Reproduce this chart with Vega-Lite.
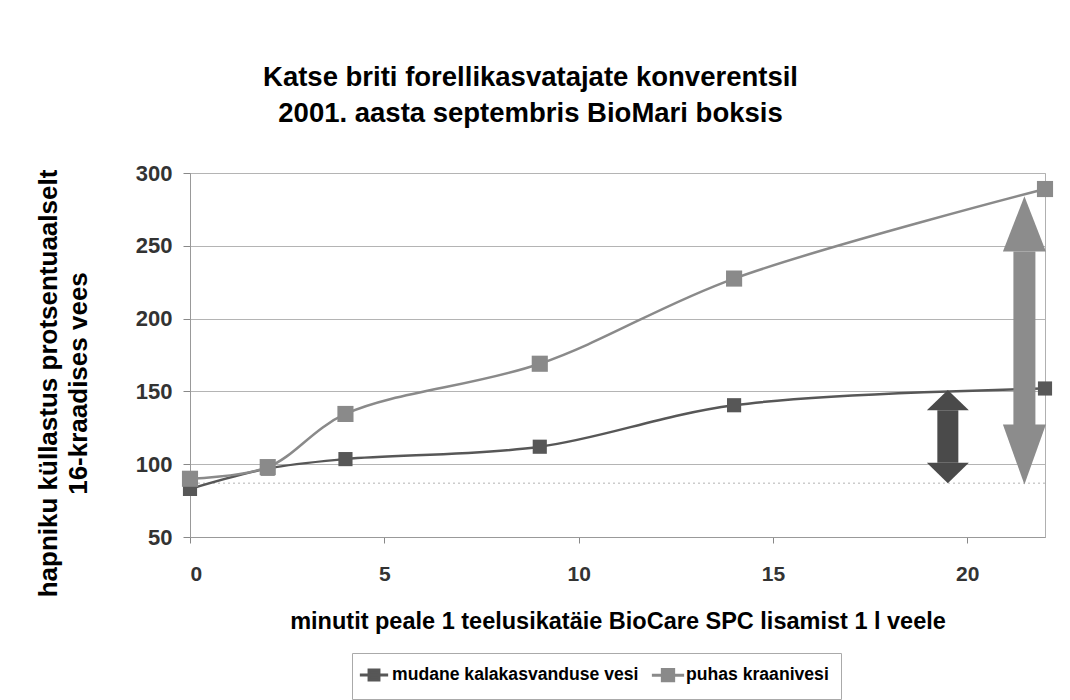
{
  "$schema": "https://vega.github.io/schema/vega-lite/v6.json",
  "width": 855,
  "height": 364,
  "autosize": "none",
  "padding": {"left": 190, "top": 173, "right": 25, "bottom": 163},
  "background": "white",
  "config": {
    "font": "Liberation Sans",
    "view": {"stroke": "#b0b0b0", "strokeWidth": 1}
  },
  "title": {
    "text": ["Katse briti forellikasvatajate konverentsil", "2001. aasta septembris BioMari boksis"],
    "fontSize": 27.5,
    "fontWeight": "bold",
    "color": "#000000",
    "anchor": "middle",
    "dx": -87,
    "offset": 35,
    "lineHeight": 36
  },
  "datasets": {
    "series": [
      {"minutes": 0, "value": 83, "series": "mudane kalakasvanduse vesi"},
      {"minutes": 2, "value": 97, "series": "mudane kalakasvanduse vesi"},
      {"minutes": 4, "value": 103.5, "series": "mudane kalakasvanduse vesi"},
      {"minutes": 9, "value": 112, "series": "mudane kalakasvanduse vesi"},
      {"minutes": 14, "value": 140.5, "series": "mudane kalakasvanduse vesi"},
      {"minutes": 22, "value": 152, "series": "mudane kalakasvanduse vesi"},
      {"minutes": 0, "value": 90, "series": "puhas kraanivesi"},
      {"minutes": 2, "value": 98, "series": "puhas kraanivesi"},
      {"minutes": 4, "value": 134.5, "series": "puhas kraanivesi"},
      {"minutes": 9, "value": 169, "series": "puhas kraanivesi"},
      {"minutes": 14, "value": 227.5, "series": "puhas kraanivesi"},
      {"minutes": 22, "value": 289, "series": "puhas kraanivesi"}
    ],
    "arrows": [
      {"arrow": "dark", "minutes": 19.5, "tip_top": 151, "tip_bottom": 87, "shaft_top": 137, "shaft_bottom": 101},
      {"arrow": "light", "minutes": 21.47, "tip_top": 284, "tip_bottom": 86, "shaft_top": 246, "shaft_bottom": 127}
    ],
    "reference": [{"level": 87}]
  },
  "layer": [
    {
      "data": {"name": "reference"},
      "mark": {"type": "rule", "color": "#cccccc", "strokeDash": [2, 3], "strokeWidth": 1.5},
      "encoding": {"y": {"field": "level", "type": "quantitative", "scale": {"domain": [50, 300]}}}
    },
    {
      "data": {"name": "series"},
      "mark": {"type": "line", "interpolate": "catmull-rom", "strokeWidth": 2.5},
      "encoding": {
        "x": {
          "field": "minutes", "type": "quantitative",
          "scale": {"domain": [0, 22], "nice": false},
          "axis": {
            "values": [0, 5, 10, 15, 20],
            "grid": false,
            "title": "minutit peale 1 teelusikatäie BioCare SPC lisamist 1 l veele",
            "titleFontSize": 23.5, "titleFontWeight": "bold", "titleColor": "#000000",
            "titlePadding": 25,
            "labelFontSize": 21, "labelFontWeight": "bold", "labelColor": "#333333",
            "labelPadding": 20,
            "tickSize": 6, "tickColor": "#888888",
            "domainColor": "#999999"
          }
        },
        "y": {
          "field": "value", "type": "quantitative",
          "scale": {"domain": [50, 300], "nice": false},
          "axis": {
            "values": [50, 100, 150, 200, 250, 300],
            "grid": true, "gridColor": "#b4b4b4", "gridWidth": 1,
            "title": ["hapniku küllastus protsentuaalselt", "16-kraadises vees"],
            "titleFontSize": 26, "titleFontWeight": "bold", "titleColor": "#000000",
            "titleLineHeight": 30,
            "titlePadding": 44,
            "titleY": 210,
            "labelFontSize": 22, "labelFontWeight": "bold", "labelColor": "#333333",
            "labelPadding": 11,
            "tickSize": 7, "tickColor": "#888888",
            "domainColor": "#999999"
          }
        },
        "color": {
          "field": "series", "type": "nominal",
          "scale": {"domain": ["mudane kalakasvanduse vesi", "puhas kraanivesi"], "range": ["#575757", "#8a8a8a"]},
          "legend": {
            "title": null,
            "orient": "none",
            "legendX": 162,
            "legendY": 480,
            "direction": "horizontal",
            "columns": 2,
            "columnPadding": 6,
            "labelFontSize": 17.6,
            "labelFontWeight": "bold",
            "labelColor": "#000000",
            "labelOffset": 8,
            "labelLimit": 400,
            "symbolType": "M-2,0H2M-0.7,-0.7H0.7V0.7H-0.7Z",
            "symbolSize": 1369,
            "symbolStrokeWidth": 3,
            "strokeColor": "#aaaaaa",
            "padding": 12,
            "encode": {
              "symbols": {
                "update": {
                  "fill": {"scale": "color", "field": "value"},
                  "stroke": {"scale": "color", "field": "value"},
                  "strokeWidth": {"value": 3},
                  "opacity": {"value": 1}
                }
              }
            }
          }
        }
      }
    },
    {
      "data": {"name": "series"},
      "mark": {"type": "point", "shape": "square", "filled": true, "opacity": 1},
      "encoding": {
        "x": {"field": "minutes", "type": "quantitative"},
        "y": {"field": "value", "type": "quantitative"},
        "color": {"field": "series", "type": "nominal"},
        "size": {"field": "series", "type": "nominal", "scale": {"domain": ["mudane kalakasvanduse vesi", "puhas kraanivesi"], "range": [200, 260]}, "legend": null}
      }
    },
    {
      "data": {"name": "arrows"},
      "transform": [{"filter": "datum.arrow === 'dark'"}],
      "layer": [
        {
          "mark": {"type": "rule", "color": "#4a4a4a", "strokeWidth": 21, "strokeCap": "butt"},
          "encoding": {
            "x": {"field": "minutes", "type": "quantitative"},
            "y": {"field": "shaft_bottom", "type": "quantitative"},
            "y2": {"field": "shaft_top"}
          }
        },
        {
          "mark": {"type": "point", "filled": true, "opacity": 1, "color": "#4a4a4a", "size": 1764, "shape": "M-1,0.97L1,0.97L0,0Z", "strokeWidth": 0},
          "encoding": {
            "x": {"field": "minutes", "type": "quantitative"},
            "y": {"field": "tip_top", "type": "quantitative"}
          }
        },
        {
          "mark": {"type": "point", "filled": true, "opacity": 1, "color": "#4a4a4a", "size": 1764, "shape": "M-1,-0.97L1,-0.97L0,0Z", "strokeWidth": 0},
          "encoding": {
            "x": {"field": "minutes", "type": "quantitative"},
            "y": {"field": "tip_bottom", "type": "quantitative"}
          }
        }
      ]
    },
    {
      "data": {"name": "arrows"},
      "transform": [{"filter": "datum.arrow === 'light'"}],
      "layer": [
        {
          "mark": {"type": "rule", "color": "#8c8c8c", "strokeWidth": 22, "strokeCap": "butt"},
          "encoding": {
            "x": {"field": "minutes", "type": "quantitative"},
            "y": {"field": "shaft_bottom", "type": "quantitative"},
            "y2": {"field": "shaft_top"}
          }
        },
        {
          "mark": {"type": "point", "filled": true, "opacity": 1, "color": "#8c8c8c", "size": 1849, "shape": "M-1,2.57L1,2.57L0,0Z", "strokeWidth": 0},
          "encoding": {
            "x": {"field": "minutes", "type": "quantitative"},
            "y": {"field": "tip_top", "type": "quantitative"}
          }
        },
        {
          "mark": {"type": "point", "filled": true, "opacity": 1, "color": "#8c8c8c", "size": 1849, "shape": "M-1,-2.8L1,-2.8L0,0Z", "strokeWidth": 0},
          "encoding": {
            "x": {"field": "minutes", "type": "quantitative"},
            "y": {"field": "tip_bottom", "type": "quantitative"}
          }
        }
      ]
    }
  ]
}
